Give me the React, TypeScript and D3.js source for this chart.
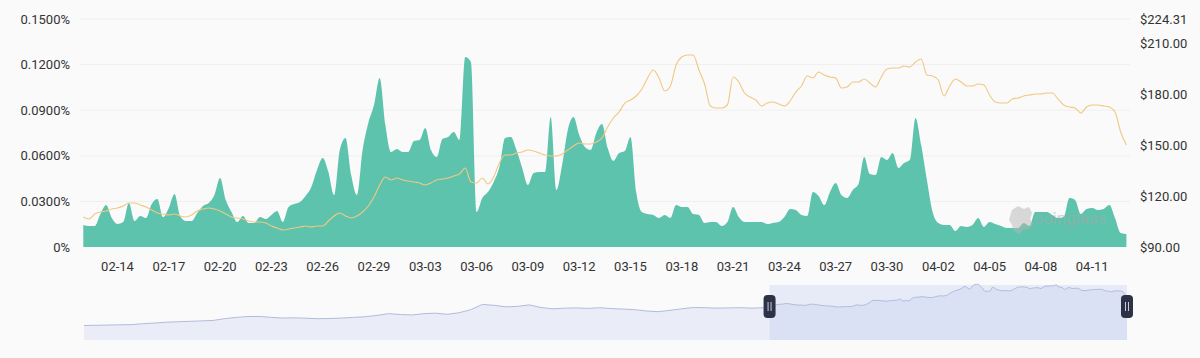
import React from 'react';
import * as d3 from 'd3';

// Funding rate (%), 8-hour intervals starting 2024-02-12 00:00 UTC
const fundingRate = [
  0.0145, 0.0138, 0.0138, 0.0217, 0.0276, 0.0191, 0.0151, 0.0164, 0.0289, 0.0171,
  0.0204, 0.0191, 0.0283, 0.0316, 0.0197, 0.0257, 0.0349, 0.0204, 0.0171, 0.0171,
  0.0224, 0.0270, 0.0289, 0.0342, 0.0454, 0.0309, 0.0230, 0.0164, 0.0204, 0.0158,
  0.0158, 0.0197, 0.0184, 0.0211, 0.0237, 0.0164, 0.0263, 0.0283, 0.0296, 0.0336,
  0.0395, 0.0507, 0.0586, 0.0493, 0.0342, 0.0638, 0.0717, 0.0474, 0.0342, 0.0638,
  0.0816, 0.0934, 0.1112, 0.0803, 0.0625, 0.0645, 0.0625, 0.0625, 0.0697, 0.0704,
  0.0783, 0.0638, 0.0592, 0.0711, 0.0724, 0.0757, 0.0704, 0.1250, 0.1217, 0.0230,
  0.0322, 0.0362, 0.0428, 0.0526, 0.0717, 0.0724, 0.0638, 0.0520, 0.0408, 0.0487,
  0.0493, 0.0493, 0.0855, 0.0375, 0.0539, 0.0770, 0.0855, 0.0737, 0.0658, 0.0638,
  0.0750, 0.0809, 0.0651, 0.0566, 0.0618, 0.0632, 0.0724, 0.0362, 0.0230, 0.0217,
  0.0211, 0.0191, 0.0211, 0.0191, 0.0276, 0.0263, 0.0263, 0.0217, 0.0211, 0.0158,
  0.0164, 0.0164, 0.0138, 0.0164, 0.0263, 0.0197, 0.0164, 0.0164, 0.0164, 0.0164,
  0.0151, 0.0158, 0.0164, 0.0197, 0.0250, 0.0243, 0.0211, 0.0204, 0.0362, 0.0336,
  0.0276, 0.0362, 0.0421, 0.0342, 0.0322, 0.0375, 0.0414, 0.0592, 0.0480, 0.0474,
  0.0592, 0.0572, 0.0618, 0.0520, 0.0553, 0.0572, 0.0849, 0.0671, 0.0441, 0.0230,
  0.0158, 0.0145, 0.0145, 0.0105, 0.0138, 0.0132, 0.0145, 0.0191, 0.0132, 0.0164,
  0.0151, 0.0138, 0.0125, 0.0125, 0.0125, 0.0158, 0.0138, 0.0230, 0.0230, 0.0230,
  0.0211, 0.0191, 0.0197, 0.0322, 0.0309, 0.0217, 0.0250, 0.0257, 0.0243, 0.0250,
  0.0276, 0.0191, 0.0092, 0.0086,
];

// Price ($), same 8-hour timestamps
const price = [
  107.67, 106.49, 109.44, 110.62, 111.21, 112.38, 112.97, 114.15, 115.92, 115.92,
  114.74, 113.56, 111.80, 110.03, 109.44, 108.85, 109.44, 108.26, 107.67, 108.85,
  111.21, 112.38, 112.97, 112.38, 111.21, 109.44, 107.67, 107.08, 106.49, 105.32,
  104.73, 104.73, 104.14, 102.37, 101.19, 100.01, 100.60, 101.19, 101.78, 102.37,
  101.78, 102.37, 102.37, 105.32, 108.26, 110.03, 108.26, 107.08, 108.26, 110.62,
  114.15, 119.45, 126.52, 131.23, 129.47, 130.65, 129.47, 128.88, 128.29, 127.70,
  126.52, 127.70, 129.47, 130.06, 130.65, 131.82, 133.00, 136.54, 128.29, 127.70,
  130.65, 127.11, 131.23, 139.48, 144.19, 144.19, 145.37, 145.96, 147.14, 146.55,
  145.37, 144.19, 143.60, 143.60, 144.78, 147.14, 149.50, 151.26, 150.67, 150.67,
  151.85, 154.21, 160.69, 165.99, 169.52, 174.82, 176.59, 178.95, 183.07, 189.55,
  194.26, 189.55, 181.89, 184.84, 197.21, 201.92, 203.10, 203.10, 194.26, 186.02,
  173.06, 171.88, 171.88, 173.65, 190.14, 187.19, 180.72, 178.36, 176.59, 173.06,
  174.82, 175.41, 174.24, 173.06, 176.00, 181.30, 184.84, 190.73, 189.55, 193.09,
  191.32, 190.14, 189.55, 183.66, 184.25, 187.19, 187.19, 188.96, 186.61, 184.25,
  190.14, 194.85, 195.44, 195.44, 196.62, 196.03, 198.98, 200.74, 191.32, 190.73,
  188.37, 178.95, 184.84, 188.96, 187.19, 184.84, 184.84, 186.02, 185.43, 179.54,
  175.41, 174.82, 174.82, 177.18, 177.77, 178.95, 179.54, 180.13, 180.13, 180.72,
  180.72, 177.18, 173.65, 172.47, 171.88, 168.93, 172.47, 173.65, 173.65, 173.06,
  172.47, 169.52, 157.74, 150.08,
];

// Earlier price history shown in the zoom slider, every 2 days from 2023-10-18
const sliderHistory = [
  16, 17, 18, 19, 20, 24, 27, 31, 33, 35, 37, 39, 47, 53, 57, 57, 53, 50, 51, 49,
  47, 48, 50, 53, 56, 62, 70, 66, 64, 70, 72, 67, 74, 88, 112, 108, 101, 103, 110, 98,
  92, 95, 96, 94, 97, 93, 91, 88, 82, 79, 85, 92, 98, 97, 95, 96, 97, 95, 97,
];

const leftTicks = [0, 0.03, 0.06, 0.09, 0.12, 0.15];
const leftTickLabels = ['0%', '0.0300%', '0.0600%', '0.0900%', '0.1200%', '0.1500%'];
const rightTicks = [90, 120, 150, 180, 210, 224.31];
const rightTickLabels = ['$90.00', '$120.00', '$150.00', '$180.00', '$210.00', '$224.31'];
const xTickLabels = [
  '02-14', '02-17', '02-20', '02-23', '02-26', '02-29', '03-03', '03-06', '03-09', '03-12',
  '03-15', '03-18', '03-21', '03-24', '03-27', '03-30', '04-02', '04-05', '04-08', '04-11',
];

const H8 = 8 * 3600 * 1000;
const DAY = 24 * 3600 * 1000;
const start = Date.UTC(2024, 1, 12);
const end = start + (fundingRate.length - 1) * H8;
const sliderStart = Date.UTC(2023, 9, 18);

const FONT = 'Roboto, "DejaVu Sans", sans-serif';

export default function App() {
  const W = 1200, H = 358;
  const x = d3.scaleUtc().domain([start, end]).range([83.3, 1126.4]);
  const yL = d3.scaleLinear().domain([0, 0.15]).range([247, 19]);
  const yR = d3.scaleLinear().domain([90, 224.31]).range([247, 19]);

  const fr = fundingRate.map((v, i) => ({ t: start + i * H8, v }));
  const pr = price.map((v, i) => ({ t: start + i * H8, v }));

  const area = d3.area<{ t: number; v: number }>()
    .x(d => x(d.t)).y0(yL(0)).y1(d => yL(d.v)).curve(d3.curveMonotoneX);
  const line = d3.line<{ t: number; v: number }>()
    .x(d => x(d.t)).y(d => yR(d.v)).curve(d3.curveMonotoneX);

  // slider
  const sd = sliderHistory.map((v, k) => ({ t: sliderStart + k * 2 * DAY, v })).concat(pr);
  const xs = d3.scaleUtc().domain([sliderStart, end]).range([84, 1127]);
  const ys = d3.scaleLinear().domain([-50, 205]).range([340, 284]);
  const sArea = d3.area<{ t: number; v: number }>()
    .x(d => xs(d.t)).y0(340).y1(d => ys(d.v)).curve(d3.curveLinear);
  const sLine = d3.line<{ t: number; v: number }>()
    .x(d => xs(d.t)).y(d => ys(d.v)).curve(d3.curveLinear);

  const hx0 = xs(start), hx1 = xs(end);

  const xTicks = xTickLabels.map(l => {
    const [m, d] = l.split('-').map(Number);
    return { l, t: Date.UTC(2024, m - 1, d) };
  });

  const handle = (cx: number) => (
    <g key={cx}>
      <rect x={cx - 6} y={295} width={12} height={23} rx={4} fill="#2d3247" />
      <line x1={cx - 1.5} x2={cx - 1.5} y1={302} y2={311} stroke="#c9cde0" strokeWidth={1} />
      <line x1={cx + 1.5} x2={cx + 1.5} y1={302} y2={311} stroke="#c9cde0" strokeWidth={1} />
    </g>
  );

  return (
    <div style={{ position: 'absolute', left: 0, top: 0 }}>
      <svg width={W} height={H} style={{ display: 'block' }}>
        <rect x={0} y={0} width={W} height={H} fill="#fafafa" />
        {leftTicks.slice(1).map(v => (
          <line key={v} x1={80} x2={1130} y1={yL(v)} y2={yL(v)} stroke="#efefef" strokeWidth={1} />
        ))}
        <path d={area(fr) || ''} fill="#5ec3ad" />
        <path d={line(pr) || ''} fill="none" stroke="#f2c782" strokeWidth={1.1} />

        {/* watermark */}
        <g opacity={0.5}>
          <path d="M1012,210 l6,-4 l6,3 l5,-2 l3,6 l-2,6 l3,5 l-4,5 l-6,1 l-4,4 l-5,-3 l-2,-6 l-3,-5 z" fill="#b5b5b5" />
          <text x={1034} y={224} fontFamily={FONT} fontSize={17} fill="#a8a8a8">coinglass</text>
        </g>

        {leftTicks.map((v, i) => (
          <text key={v} x={70} y={yL(v)} dy="0.35em" textAnchor="end" fontFamily={FONT} fontSize={13} fill="#333">{leftTickLabels[i]}</text>
        ))}
        {rightTicks.map((v, i) => (
          <text key={v} x={1140} y={yR(v)} dy="0.35em" textAnchor="start" fontFamily={FONT} fontSize={13} fill="#333">{rightTickLabels[i]}</text>
        ))}
        {xTicks.map(d => (
          <text key={d.l} x={x(d.t)} y={266} dy="0.35em" textAnchor="middle" fontFamily={FONT} fontSize={13} fill="#333">{d.l}</text>
        ))}

        {/* data zoom slider */}
        <path d={sArea(sd) || ''} fill="#eaedf8" />
        <rect x={hx0} y={285} width={hx1 - hx0} height={55} fill="#a5b4ee" opacity={0.22} />
        <path d={sLine(sd) || ''} fill="none" stroke="#b3bbdb" strokeWidth={1} />
        {handle(hx0)}
        {handle(hx1)}
      </svg>
    </div>
  );
}
